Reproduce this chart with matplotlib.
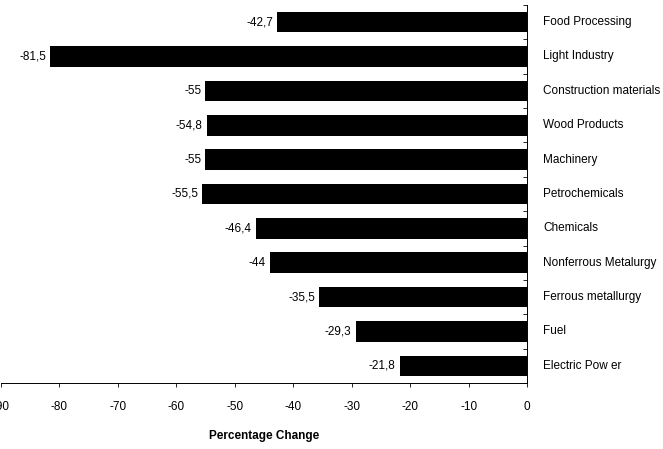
import matplotlib
matplotlib.use("Agg")
import matplotlib.pyplot as plt
import numpy as np

plt.rcParams['font.family'] = ['Liberation Sans', 'DejaVu Sans']

sectors = ["Food Processing", "Light Industry", "Construction materials",
           "Wood Products", "Machinery", "Petrochemicals", "Chemicals",
           "Nonferrous Metalurgy", "Ferrous metallurgy", "Fuel", "Electric Pow er"]
changes = [-42.7, -81.5, -55, -54.8, -55, -55.5, -46.4, -44, -35.5, -29.3, -21.8]
change_labels = ["-42,7", "-81,5", "-55", "-54,8", "-55", "-55,5", "-46,4",
                 "-44", "-35,5", "-29,3", "-21,8"]
xticks = [-90, -80, -70, -60, -50, -40, -30, -20, -10, 0]

fig = plt.figure(figsize=(6.63, 4.49), dpi=100)
ax = fig.add_axes([0.001, 0.147, 0.794, 0.842])

n = len(sectors)
ypos = np.arange(n)[::-1]
ax.barh(ypos, changes, height=0.6, color='black')

for y, v, lab, name in zip(ypos, changes, change_labels, sectors):
    ax.text(v - 0.7, y, lab, ha='right', va='center', fontsize=8.5)
    ax.text(2.7, y, name, ha='left', va='center', fontsize=8.5, clip_on=False)

ax.set_xlim(-90, 0)
ax.set_ylim(-0.5, n - 0.5)
ax.set_xticks(xticks)
ax.set_xticklabels([str(t) for t in xticks], fontsize=8.5)
ax.set_yticks(np.arange(n + 1) - 0.5)
ax.set_yticklabels([])
ax.yaxis.tick_right()
ax.tick_params(axis='y', direction='in', length=3, width=0.6)
ax.tick_params(axis='x', direction='out', length=3, width=0.6, pad=10)

for s in ['top', 'left']:
    ax.spines[s].set_visible(False)
ax.spines['right'].set_linewidth(0.7)
ax.spines['bottom'].set_linewidth(0.7)

ax.set_xlabel("Percentage Change", fontsize=8.5, fontweight='bold', labelpad=12)

fig.savefig("out.png", dpi=100)
